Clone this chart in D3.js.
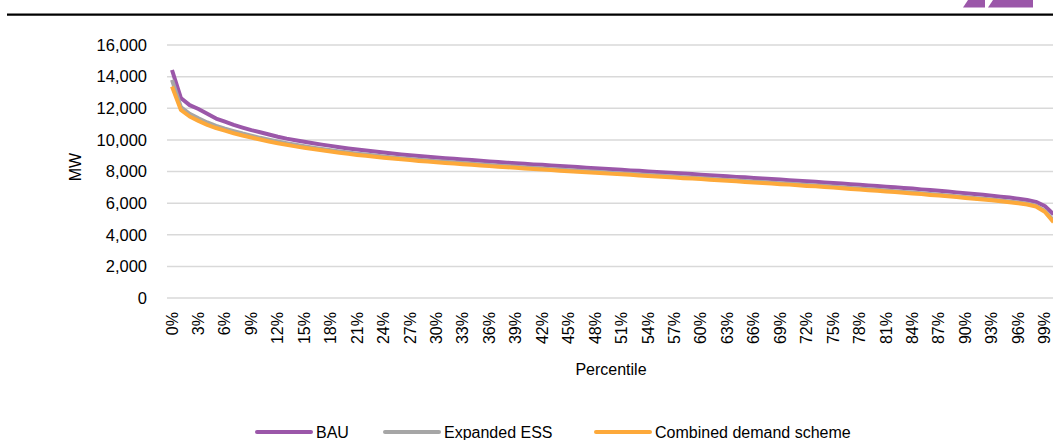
<!DOCTYPE html>
<html>
<head>
<meta charset="utf-8">
<script src="https://cdn.jsdelivr.net/npm/d3@7"></script>
<style>
  html, body { margin: 0; padding: 0; background: #fff; }
  svg { display: block; font-family: "Liberation Sans", Arial, sans-serif; }
</style>
</head>
<body>
<svg id="chart" width="1053" height="440"></svg>
<script>
// Load-duration style curve: MW by percentile for three scenarios
const percentiles = d3.range(0, 101).map(p => p + "%");

const bau = [
  14420, 12650, 12200, 11950, 11650, 11350, 11150, 10950, 10780, 10620,
  10480, 10340, 10200, 10080, 9980, 9880, 9790, 9700, 9620, 9540,
  9460, 9390, 9330, 9260, 9200, 9140, 9080, 9030, 8980, 8930,
  8880, 8840, 8800, 8760, 8720, 8680, 8640, 8600, 8560, 8520,
  8490, 8450, 8420, 8380, 8350, 8310, 8280, 8240, 8210, 8170,
  8140, 8110, 8070, 8040, 8000, 7970, 7940, 7900, 7870, 7840,
  7800, 7770, 7730, 7700, 7660, 7630, 7590, 7560, 7520, 7490,
  7450, 7420, 7380, 7350, 7310, 7270, 7240, 7200, 7160, 7120,
  7080, 7040, 7000, 6960, 6920, 6870, 6830, 6780, 6730, 6680,
  6630, 6580, 6530, 6470, 6410, 6350, 6280, 6200, 6080, 5820,
  5300
];

const expandedEss = [
  13800, 12080, 11650, 11360, 11100, 10890, 10710, 10550, 10400, 10270,
  10130, 10010, 9900, 9790, 9690, 9600, 9510, 9430, 9350, 9270,
  9200, 9130, 9070, 9010, 8950, 8890, 8840, 8790, 8740, 8700,
  8650, 8610, 8570, 8530, 8490, 8450, 8410, 8370, 8330, 8300,
  8260, 8220, 8190, 8150, 8120, 8080, 8050, 8010, 7980, 7950,
  7910, 7880, 7850, 7810, 7780, 7740, 7710, 7680, 7640, 7610,
  7570, 7540, 7500, 7470, 7430, 7400, 7360, 7330, 7290, 7260,
  7220, 7190, 7150, 7110, 7080, 7040, 7000, 6960, 6920, 6880,
  6840, 6800, 6750, 6710, 6670, 6620, 6580, 6530, 6480, 6430,
  6380, 6330, 6280, 6230, 6170, 6110, 6040, 5960, 5840, 5510,
  4900
];

const combinedDemand = [
  13380, 11900, 11480, 11200, 10950, 10750, 10580, 10420, 10280, 10150,
  10020, 9900, 9790, 9690, 9590, 9500, 9420, 9340, 9260, 9190,
  9120, 9050, 8990, 8930, 8870, 8820, 8770, 8720, 8670, 8630,
  8580, 8540, 8500, 8460, 8420, 8380, 8340, 8300, 8270, 8230,
  8190, 8160, 8120, 8090, 8050, 8020, 7990, 7950, 7920, 7890,
  7850, 7820, 7790, 7750, 7720, 7690, 7650, 7620, 7580, 7550,
  7520, 7480, 7450, 7410, 7380, 7340, 7310, 7270, 7240, 7200,
  7170, 7130, 7090, 7060, 7020, 6980, 6940, 6900, 6860, 6820,
  6780, 6740, 6700, 6660, 6610, 6570, 6520, 6480, 6430, 6380,
  6330, 6280, 6230, 6180, 6120, 6060, 5990, 5910, 5790, 5450,
  4800
];

const yTicks = [0, 2000, 4000, 6000, 8000, 10000, 12000, 14000, 16000];
const xTickLabels = percentiles.filter((d, i) => i % 3 === 0 && i < 100);

const series = [
  { name: "BAU", values: bau, color: "#9B57A9" },
  { name: "Expanded ESS", values: expandedEss, color: "#A6A6A6" },
  { name: "Combined demand scheme", values: combinedDemand, color: "#FDA93A" }
];

const svg = d3.select("#chart");

// Header rule and corner mark
svg.append("line")
  .attr("x1", 7).attr("x2", 1053).attr("y1", 14.7).attr("y2", 14.7)
  .attr("stroke", "#000").attr("stroke-width", 2.2);
svg.append("polygon")
  .attr("points", "968,0 985,0 985,7.5 963,7.5")
  .attr("fill", "#9B57A9");
svg.append("polygon")
  .attr("points", "993,0 1033,0 1033,7.5 988,7.5")
  .attr("fill", "#9B57A9");

const x = d3.scaleBand().domain(percentiles).range([167.6, 1058]).padding(0);
const y = d3.scaleLinear().domain([0, 16000]).range([298, 45]);

// Gridlines and y tick labels
const yAxis = d3.axisLeft(y).tickValues(yTicks).tickSize(0).tickPadding(0)
  .tickFormat(d3.format(","));
const gy = svg.append("g").attr("transform", "translate(147,0)").call(yAxis);
gy.select(".domain").remove();
gy.selectAll("text").attr("font-size", 16.5).attr("fill", "#000")
  .attr("font-family", "Liberation Sans, Arial, sans-serif");

svg.append("g").selectAll("line").data(yTicks).join("line")
  .attr("x1", 167).attr("x2", 1058)
  .attr("y1", d => y(d)).attr("y2", d => y(d))
  .attr("stroke", "#D9D9D9").attr("stroke-width", 1.5);

// X tick labels, rotated
const xAxis = d3.axisBottom(x).tickValues(xTickLabels).tickSize(0).tickPadding(0);
const gx = svg.append("g").attr("transform", "translate(0,312)").call(xAxis);
gx.select(".domain").remove();
gx.selectAll("text")
  .attr("font-size", 16).attr("fill", "#000")
  .attr("font-family", "Liberation Sans, Arial, sans-serif")
  .attr("text-anchor", "end")
  .attr("dy", null)
  .attr("y", 0)
  .attr("x", 0)
  .attr("transform", "rotate(-90) translate(0,5.5)");

// Axis titles
svg.append("text")
  .attr("transform", "translate(81,167) rotate(-90)")
  .attr("text-anchor", "middle")
  .attr("font-size", 16).text("MW");
svg.append("text")
  .attr("x", 611).attr("y", 375)
  .attr("text-anchor", "middle")
  .attr("font-size", 16).text("Percentile");

// Series lines
const line = d3.line()
  .x((d, i) => x(percentiles[i]) + x.bandwidth() / 2)
  .y(d => y(d));
svg.append("g").selectAll("path").data(series).join("path")
  .attr("d", d => line(d.values))
  .attr("fill", "none")
  .attr("stroke", d => d.color)
  .attr("stroke-width", 4)
  .attr("stroke-linejoin", "round");

// Legend
const legendX = [257, 385, 596];
const lg = svg.append("g").selectAll("g").data(series).join("g")
  .attr("transform", (d, i) => `translate(${legendX[i]},432)`);
lg.append("line").attr("x1", 0).attr("x2", 54).attr("y1", 0).attr("y2", 0)
  .attr("stroke", d => d.color).attr("stroke-width", 4).attr("stroke-linecap", "round");
lg.append("text").attr("x", 59).attr("y", 6).attr("font-size", 16)
  .text(d => d.name);
</script>
</body>
</html>
